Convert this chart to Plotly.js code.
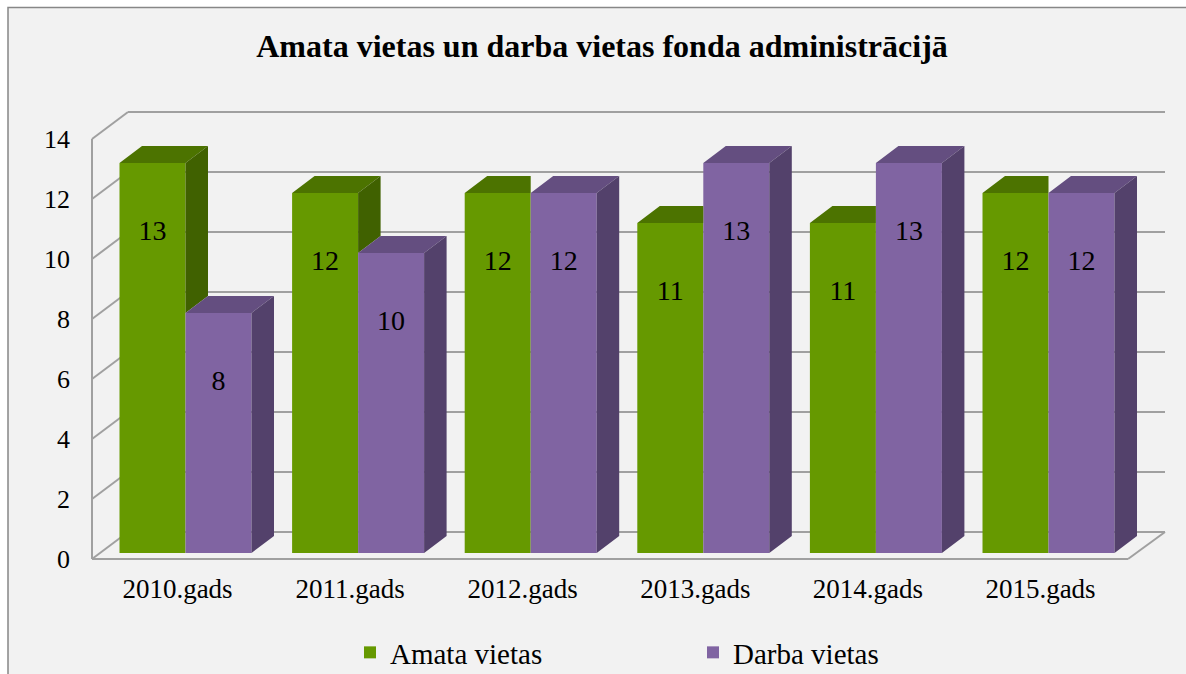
<!DOCTYPE html>
<html>
<head>
<meta charset="utf-8">
<script src="https://cdn.plot.ly/plotly-3.0.1.min.js"></script>
<style>html,body{margin:0;padding:0;background:#fff;}#chart{width:1186px;height:674px;}</style>
</head>
<body>
<div id="chart"></div>
<script>
// ---- data ----
const categories = ['2010.gads', '2011.gads', '2012.gads', '2013.gads', '2014.gads', '2015.gads'];
const amataVietas = [13, 12, 12, 11, 11, 12];
const darbaVietas = [8, 10, 12, 13, 13, 12];
const yTicks = [0, 2, 4, 6, 8, 10, 12, 14];
const seriesNames = ['Amata vietas', 'Darba vietas'];

// ---- geometry (pixel scale helpers) ----
const W = 1186, H = 674;
const L = 85, R = 1175, T = 100, B = 562;
const catStepPx = 172.6, cat0Px = 177.5;      // category spacing / first centre
const pxPerUnit = 30, zeroPx = 559;           // front value scale
const px2x = p => (p - cat0Px) / catStepPx;
const dpx2x = d => d / catStepPx;
const dpx2y = d => d / pxPerUnit;

const xRange = [px2x(L), px2x(R)];
const yRange = [(zeroPx - B) / pxPerUnit, (zeroPx - T) / pxPerUnit];

const base = dpx2y(6);          // bars stand a bit behind the front edge
const barW = dpx2x(66);
const offG = dpx2x(8) - barW;
const offP = dpx2x(8);
const dX = dpx2x(22.5), dY = dpx2y(17);   // bar depth
const labelDrop = dpx2y(70);

const frontL = px2x(92), backL = px2x(128), frontR = px2x(1128), backR = px2x(1165);
const wallDy = dpx2y(27);

const cGreen = '#669900', cGreenTop = '#4C7300', cGreenSide = '#406100';
const cPurple = '#8064A2', cPurpleTop = '#644E80', cPurpleSide = '#53416B';
const gridColor = '#A0A0A0';
const serif = '"Liberation Serif", "Times New Roman", serif';

// ---- faces built from the values ----
const gTop = {x: [], y: []}, gSide = {x: [], y: []}, pTop = {x: [], y: []}, pSide = {x: [], y: []};
function addPoly(obj, xs, ys) { obj.x.push(...xs, null); obj.y.push(...ys, null); }
categories.forEach((c, i) => {
  const G = base + amataVietas[i], P = base + darbaVietas[i];
  const x0 = i + offG, x1 = i + offP, x2 = x1 + barW;
  if (G > P) {
    addPoly(gTop, [x0, x1, x1 + dX, x0 + dX], [G, G, G + dY, G + dY]);
    addPoly(gSide, [x1, x1 + dX, x1 + dX, x1], [P, P + dY, G + dY, G]);
  } else {
    addPoly(gTop, [x0, x1, x1, x0 + dX], [G, G, G + dY, G + dY]);
  }
  addPoly(pTop, [x1, x2, x2 + dX, x1 + dX], [P, P, P + dY, P + dY]);
  addPoly(pSide, [x2, x2 + dX, x2 + dX, x2], [base, base + dY, P + dY, P]);
});
const idx = categories.map((c, i) => i);

function face(obj, color) {
  return {type: 'scatter', mode: 'none', fill: 'toself', fillcolor: color,
          x: obj.x, y: obj.y, showlegend: false, hoverinfo: 'skip'};
}

const traces = [
  {type: 'bar', name: seriesNames[0], x: idx, y: amataVietas, base: base,
   width: barW, offset: offG, marker: {color: cGreen, line: {width: 0}}, hoverinfo: 'y'},
  {type: 'bar', name: seriesNames[1], x: idx, y: darbaVietas, base: base,
   width: barW, offset: offP, marker: {color: cPurple, line: {width: 0}}, hoverinfo: 'y'},
  face(gTop, cGreenTop), face(gSide, cGreenSide),
  face(pTop, cPurpleTop), face(pSide, cPurpleSide),
  {type: 'scatter', mode: 'text', x: idx.map(i => i + offG + barW / 2),
   y: amataVietas.map(v => base + v - labelDrop), text: amataVietas.map(String),
   textfont: {family: serif, size: 28, color: '#000'}, showlegend: false, hoverinfo: 'skip'},
  {type: 'scatter', mode: 'text', x: idx.map(i => i + offP + barW / 2),
   y: darbaVietas.map(v => base + v - labelDrop), text: darbaVietas.map(String),
   textfont: {family: serif, size: 28, color: '#000'}, showlegend: false, hoverinfo: 'skip'}
];

// ---- walls & floor ----
const shapes = [];
shapes.push({type: 'rect', xref: 'paper', yref: 'paper', layer: 'below',
  x0: (8 - L) / (R - L), x1: (W + 20 - L) / (R - L),
  y0: (B - (H + 20)) / (B - T), y1: (B - 7.5) / (B - T),
  fillcolor: '#F2F2F2', line: {color: '#878787', width: 1.5}});
function seg(x0, y0, x1, y1) {
  shapes.push({type: 'line', xref: 'x', yref: 'y', layer: 'below', x0, y0, x1, y1,
               line: {color: gridColor, width: 2}});
}
yTicks.forEach(v => {
  seg(backL, v + wallDy, backR, v + wallDy);
  seg(frontL, v, backL, v + wallDy);
});
seg(frontL, 0, frontL, yTicks[yTicks.length - 1]);
seg(frontL, 0, frontR, 0);
seg(frontR, 0, backR, wallDy);

const layout = {
  width: W, height: H,
  margin: {l: L, r: W - R, t: T, b: H - B, pad: 0, autoexpand: false},
  paper_bgcolor: '#FFFFFF', plot_bgcolor: 'rgba(0,0,0,0)',
  barmode: 'overlay',
  font: {family: serif, color: '#000'},
  title: {text: 'Amata vietas un darba vietas fonda administrācijā',
          font: {family: serif, size: 32, color: '#000', weight: 'bold'},
          x: 602 / W, xanchor: 'center', y: 1 - 46 / H, yanchor: 'middle'},
  xaxis: {range: xRange, tickvals: idx, ticktext: categories, showgrid: false,
          zeroline: false, showline: false, ticks: '', fixedrange: true, automargin: false,
          tickfont: {family: serif, size: 27, color: '#000'}, ticklabelstandoff: 8},
  yaxis: {range: yRange, tickvals: yTicks, showgrid: false, zeroline: false,
          showline: false, ticks: '', fixedrange: true, automargin: false,
          tickfont: {family: serif, size: 26, color: '#000'}, ticklabelstandoff: 14},
  showlegend: true,
  legend: {orientation: 'h', x: (350 - L) / (R - L), xanchor: 'left',
           y: (B - 627) / (B - T), yanchor: 'top', bgcolor: 'rgba(0,0,0,0)',
           font: {family: serif, size: 29, color: '#000'},
           entrywidth: 298, entrywidthmode: 'pixels', itemwidth: 30, traceorder: 'normal'},
  shapes: shapes
};

Plotly.newPlot('chart', traces, layout, {displayModeBar: false, staticPlot: true});
</script>
</body>
</html>
